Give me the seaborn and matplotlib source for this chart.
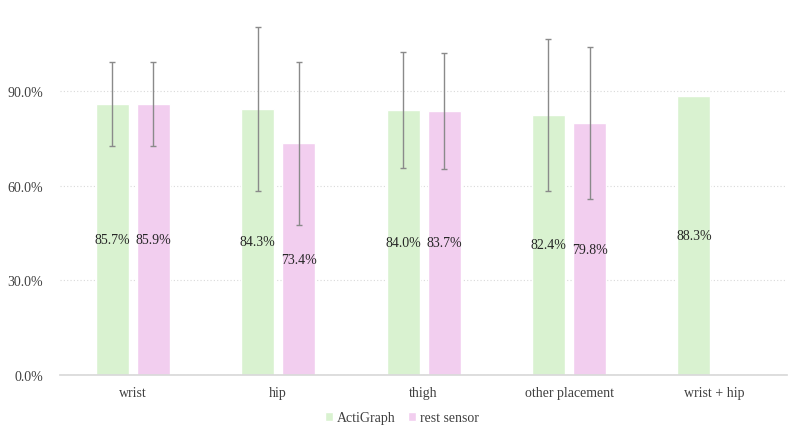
import matplotlib
matplotlib.use("Agg")
import matplotlib.pyplot as plt
import seaborn as sns
import pandas as pd
import numpy as np
from matplotlib.ticker import FuncFormatter

categories = ["wrist", "hip", "thigh", "other placement", "wrist + hip"]
actigraph = [85.7, 84.3, 84.0, 82.4, 88.3]
rest_sensor = [85.9, 73.4, 83.7, 79.8, np.nan]
actigraph_err = [13.3, 26.0, 18.3, 24.0, np.nan]
rest_err = [13.3, 25.8, 18.3, 24.0, np.nan]
series = ["ActiGraph", "rest sensor"]
colors = ["#D9F2D0", "#F2CEEF"]

sns.set_theme(style="white")
plt.rcParams["font.family"] = ["Liberation Serif", "DejaVu Serif"]

rows = []
for i, c in enumerate(categories):
    rows.append({"cat": c, "series": series[0], "val": actigraph[i], "err": actigraph_err[i]})
    rows.append({"cat": c, "series": series[1], "val": rest_sensor[i], "err": rest_err[i]})
df = pd.DataFrame(rows)

fig = plt.figure(figsize=(8, 4.35), dpi=100)
ax = fig.add_axes([0.075, 0.1356, 0.909, 0.842])

sns.barplot(data=df.dropna(subset=["val"]), x="cat", y="val", hue="series",
            order=categories, hue_order=series, palette=colors,
            width=0.565, gap=0.195, errorbar=None, ax=ax, saturation=1)

errs = {series[0]: actigraph_err, series[1]: rest_err}
for s, cont in zip(series, ax.containers):
    labels = []
    for bar in cont:
        xc = bar.get_x() + bar.get_width() / 2
        idx = int(round(xc))
        h = bar.get_height()
        labels.append(f"{h:.1f}%")
        e = errs[s][idx]
        if not np.isnan(e):
            ax.errorbar(xc, h, yerr=e, fmt="none", ecolor="#8a8a8a",
                        elinewidth=1, capsize=2.2, capthick=1, zorder=3)
    ax.bar_label(cont, labels=labels, label_type="center", fontsize=10, color="#262626")

ax.set_ylim(0, 116)
ax.set_yticks([0, 30, 60, 90])
ax.yaxis.set_major_formatter(FuncFormatter(lambda v, p: f"{v:.1f}%"))
ax.grid(axis="y", linestyle=(0, (1, 2)), color="#d9d9d9", linewidth=0.8)
ax.set_axisbelow(True)
for sp in ["top", "right", "left"]:
    ax.spines[sp].set_visible(False)
ax.spines["bottom"].set_color("#d9d9d9")
ax.tick_params(axis="y", length=0, labelsize=10, labelcolor="#404040", pad=12)
ax.tick_params(axis="x", length=0, labelsize=10, labelcolor="#404040", pad=8)
ax.set_xlabel("")
ax.set_ylabel("")
ax.set_xlim(-0.5, 4.5)

leg = ax.legend(loc="upper center", bbox_to_anchor=(0.47, -0.065), ncol=2, frameon=False,
                fontsize=10, handlelength=0.55, handleheight=0.55, handletextpad=0.3,
                columnspacing=0.9)
for t in leg.get_texts():
    t.set_color("#404040")

fig.savefig("out.png", dpi=100)
